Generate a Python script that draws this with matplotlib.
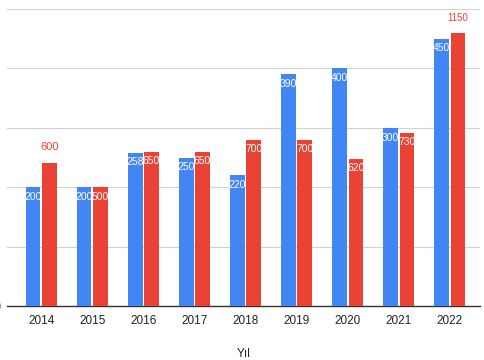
import matplotlib
matplotlib.use("Agg")
import matplotlib.pyplot as plt
import numpy as np

years = ["2014", "2015", "2016", "2017", "2018", "2019", "2020", "2021", "2022"]
blue_vals = [200, 200, 258, 250, 220, 390, 400, 300, 450]
red_vals = [600, 500, 650, 650, 700, 700, 620, 730, 1150]
blue_ticks = [0, 100, 200, 300, 400, 500]
red_max = 1250
xlabel = "Yıl"

BLUE = "#4285F4"
RED = "#EA4335"

plt.rcParams['font.family'] = ['Liberation Sans', 'DejaVu Sans']

fig = plt.figure(figsize=(4.85, 3.6), dpi=100)
W, H = 485, 360
ax = fig.add_axes([7 / W, 54 / H, 473 / W, 297 / H])
ax2 = ax.twinx()

x = np.arange(len(years))
bw = 0.284
off = 0.159

ax.bar(x - off, blue_vals, width=bw, color=BLUE, zorder=3)
ax2.bar(x + off, red_vals, width=bw, color=RED, zorder=3)

ax.set_xlim(-0.67, 8.59)
ax.set_ylim(0, 500)
ax2.set_ylim(0, red_max)

ax.set_yticks(blue_ticks)
ax.set_yticklabels([str(t) for t in blue_ticks], color="#666666", fontsize=8)
ax.tick_params(axis='y', length=0, pad=4.5)
ax2.set_yticks([])
ax.grid(axis='y', color="#d0d0d0", linewidth=0.8, zorder=0)
ax.set_axisbelow(True)

for a in (ax, ax2):
    for s in ("left", "right", "top"):
        a.spines[s].set_visible(False)
ax.spines["bottom"].set_color("#333333")
ax.spines["bottom"].set_linewidth(1.0)
ax2.spines["bottom"].set_visible(False)

ax.set_xticks(x)
ax.set_xticklabels(years, fontsize=8.5, color="#222222")
ax.tick_params(axis='x', length=0, pad=6.5)
ax.set_xlabel(xlabel, fontsize=8.5, color="#222222", labelpad=15)

# data labels
for xi, v in zip(x, blue_vals):
    ax.annotate(str(v), (xi - off, v), xytext=(0, -7), textcoords="offset points",
                ha="center", va="center", color="white", fontsize=7.5, zorder=5)
for xi, v in zip(x, red_vals):
    if v in (600, 1150):
        fs = 8 if v == 600 else 7
        dy = 11.5 if v == 600 else 10.5
        ax2.annotate(str(v), (xi + off, v), xytext=(0, dy), textcoords="offset points",
                     ha="center", va="center", color=RED, fontsize=fs, zorder=5)
    else:
        ax2.annotate(str(v), (xi + off, v), xytext=(0, -7), textcoords="offset points",
                     ha="center", va="center", color="white", fontsize=7.5, zorder=5)

fig.savefig("out.png", dpi=100)
